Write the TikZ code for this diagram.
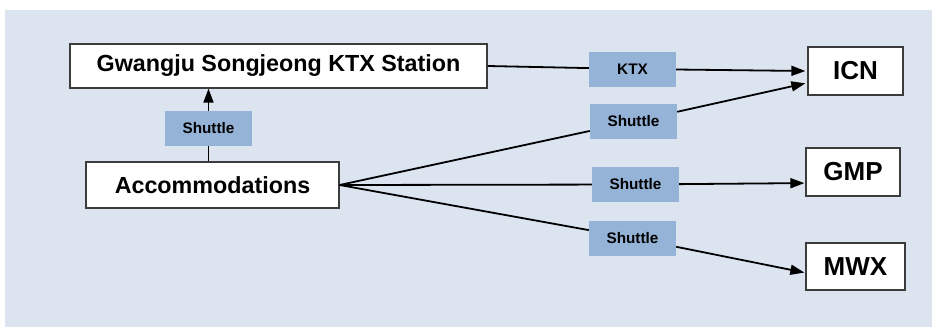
\documentclass[tikz,border=0pt]{standalone}
\usepackage{fontspec}
\setmainfont{Liberation Sans}
\usetikzlibrary{arrows.meta,calc}
\definecolor{bgblue}{RGB}{220,228,240}
\definecolor{lblblue}{RGB}{149,179,215}
\definecolor{edgegray}{RGB}{60,60,60}
\tikzset{
  place/.style={draw=edgegray, line width=1.3pt, fill=white, inner sep=0pt, font=\bfseries\fontsize{23.3}{26}\selectfont},
  airport/.style={place, font=\bfseries\fontsize{26}{29}\selectfont},
  modelabel/.style={fill=lblblue, inner sep=0pt, minimum width=87pt, minimum height=35pt, font=\bfseries\fontsize{15.3}{17}\selectfont},
  conn/.style={line width=1.8pt, black},
  arr/.style={conn, -{Triangle[length=14pt,width=10pt]}}
}
\begin{document}
\begin{tikzpicture}[x=1pt,y=-1pt]
\useasboundingbox (0,0) rectangle (932,327);
\fill[bgblue] (5,10) rectangle (932,327);
% places
\node[place, minimum width=417pt, minimum height=44pt] (gw) at (278.5,66) {Gwangju Songjeong KTX Station};
\node[place, minimum width=253pt, minimum height=46pt] (acc) at (212.5,185) {Accommodations};
\node[airport, minimum width=95pt, minimum height=48pt] (icn) at (855.5,71) {ICN};
\node[airport, minimum width=94pt, minimum height=48pt] (gmp) at (853,172) {GMP};
\node[airport, minimum width=99pt, minimum height=47pt] (mwx) at (855.5,266.5) {MWX};
% mode labels
\node[modelabel] (sv) at (208.5,128.5) {Shuttle};
\node[modelabel] (ktx) at (632.5,69) {KTX};
\node[modelabel] (s1) at (633.5,121.5) {Shuttle};
\node[modelabel] (s2) at (635.5,184.5) {Shuttle};
\node[modelabel] (s3) at (632.5,238) {Shuttle};
% target points
\coordinate (icnK) at ($(icn.west)+(-2,0)$);
\coordinate (icnS) at ($(icn.west)!0.5!(icn.south west)+(-2,0)$);
\coordinate (gmpS) at ($(gmp.west)!0.45!(gmp.south west)+(-1,0)$);
\coordinate (mwxS) at ($(mwx.west)!0.25!(mwx.south west)+(-1,0)$);
% connectors
\draw[conn] (acc.north -| sv.south) -- (sv.south);
\draw[arr] (sv.north) -- (sv.north |- gw.south);
\draw[conn] (gw.east) -- (ktx);
\draw[arr] (ktx) -- (icnK);
\draw[conn] (acc.east) -- (s1);
\draw[arr] (s1) -- (icnS);
\draw[conn] (acc.east) -- (s2);
\draw[arr] (s2) -- (gmpS);
\draw[conn] (acc.east) -- (s3);
\draw[arr] (s3) -- (mwxS);
\end{tikzpicture}
\end{document}
